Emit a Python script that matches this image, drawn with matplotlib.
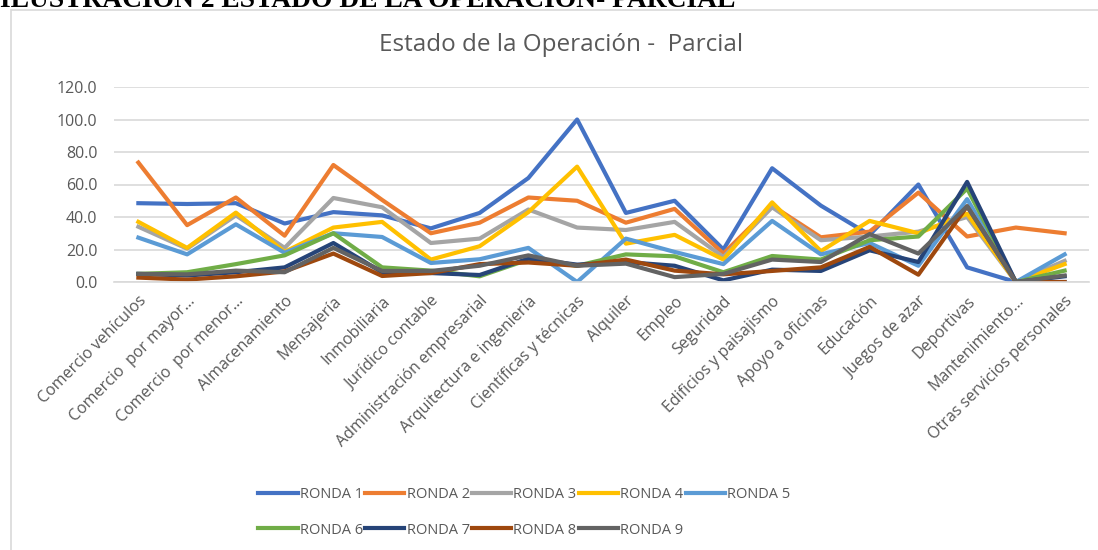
import matplotlib
matplotlib.use("Agg")
import matplotlib.pyplot as plt
from matplotlib.patches import Rectangle
from matplotlib.ticker import FormatStrFormatter

categories = ["Comercio vehículos", "Comercio  por mayor…", "Comercio  por menor…",
              "Almacenamiento", "Mensajería", "Inmobiliaria", "Jurídico contable",
              "Administración empresarial", "Arquitectura e ingeniería",
              "Científicas y técnicas", "Alquiler", "Empleo", "Seguridad",
              "Edificios y paisajismo", "Apoyo a oficinas", "Educación",
              "Juegos de azar", "Deportivas", "Mantenimiento…",
              "Otras servicios personales"]

ronda1 = [48.5, 48, 48.5, 36, 43, 41, 33, 42.5, 64, 100, 42.5, 50, 20, 70, 47, 29, 60, 9, 0, 0]
ronda2 = [73.5, 35, 52, 28.5, 72, 50.5, 30, 36.5, 52, 50, 36.5, 45, 17.5, 47, 27.5, 31, 55, 28, 33.5, 30]
ronda3 = [34, 20.5, 41, 21, 51.7, 46, 24, 26.7, 44.6, 33.5, 32, 37, 15.4, 46, 25.7, 28, 31, 40, 0, 13]
ronda4 = [37, 21, 42.7, 18.5, 33.5, 37, 13.8, 22, 43, 71, 23.6, 29, 13.8, 49, 19, 37.6, 30, 42, 0, 11]
ronda5 = [27.3, 17, 35.5, 18, 30, 27.7, 11.7, 14, 21, 0, 26.7, 18.5, 11, 37.6, 17, 24, 10, 51, 0, 17]
ronda6 = [5, 6, 11, 16.4, 30, 9, 7, 3.5, 13.8, 10, 17, 15.8, 6, 16, 13.8, 25.7, 28, 57.5, 0, 7]
ronda7 = [5, 4, 6, 9, 24, 6, 5.5, 4.3, 14.4, 10.7, 12.3, 10, 1, 7.6, 6.8, 19.5, 12.3, 61.6, 0, 3.5]
ronda8 = [2.7, 1.5, 3.5, 6.5, 17.5, 3.7, 5.5, 11, 12, 10, 13.8, 7, 4.7, 6.8, 9, 21.6, 4.5, 46.6, 0, 0]
ronda9 = [5, 4.7, 7, 6, 21, 6.8, 6.8, 10, 16.4, 10, 11.3, 3, 5, 13.8, 12.3, 29.5, 17.5, 46.6, 0, 4]

series_names = ["RONDA 1", "RONDA 2", "RONDA 3", "RONDA 4", "RONDA 5",
                "RONDA 6", "RONDA 7", "RONDA 8", "RONDA 9"]
series_values = [ronda1, ronda2, ronda3, ronda4, ronda5, ronda6, ronda7, ronda8, ronda9]
colors = ["#4472C4", "#ED7D31", "#A5A5A5", "#FFC000", "#5B9BD5",
          "#70AD47", "#264478", "#9E480E", "#636363"]
yticks = [0, 20, 40, 60, 80, 100, 120]

FONT = "Open Sans"
TXT = "#595959"
W, H = 1098, 550

fig = plt.figure(figsize=(W / 100, H / 100), dpi=100)

# chart border
fig.patches.append(Rectangle((11 / W, -0.05), 1.2, (H - 10) / H + 0.05,
                             transform=fig.transFigure, fill=False,
                             edgecolor="#D9D9D9", linewidth=1.2))

# document caption (cut off at the top, as in the source document)
fig.text(0.0, 1 - 7 / H, "ILUSTRACIÓN 2 ESTADO DE LA OPERACIÓN- PARCIAL",
         fontfamily="Liberation Serif", fontweight="bold", fontsize=19.8,
         ha="left", va="baseline", color="black")

ax = fig.add_axes([114 / W, (H - 282) / H, (1089 - 114) / W, (282 - 87) / H])
x = list(range(len(categories)))
for name, vals, c in zip(series_names, series_values, colors):
    ax.plot(x, vals, color=c, linewidth=3, label=name, solid_joinstyle="round")

ax.set_xlim(-0.5, len(categories) - 0.5)
ax.set_ylim(0, 120)
ax.set_yticks(yticks)
ax.yaxis.set_major_formatter(FormatStrFormatter("%.1f"))
ax.grid(axis="y", color="#D9D9D9", linewidth=1.2)
ax.set_axisbelow(True)
for s in ["top", "right", "left"]:
    ax.spines[s].set_visible(False)
ax.spines["bottom"].set_color("#D9D9D9")
ax.spines["bottom"].set_linewidth(1.2)
ax.tick_params(axis="both", length=0, colors=TXT, labelsize=11.5)
ax.tick_params(axis="y", pad=12)
ax.tick_params(axis="x", pad=8)
ax.set_xticks(x)
ax.set_xticklabels(categories, rotation=45, ha="right", va="top",
                   rotation_mode="anchor", fontfamily=FONT, fontsize=11.5, color=TXT)
for lab in ax.get_yticklabels():
    lab.set_fontfamily(FONT)

fig.text(561 / W, 1 - 45 / H, "Estado de la Operación -  Parcial", fontfamily=FONT,
         fontsize=17.5, color=TXT, ha="center", va="center")

handles, labels = ax.get_legend_handles_labels()
order = [0, 5, 1, 6, 2, 7, 3, 8, 4]
leg = fig.legend([handles[i] for i in order], [labels[i] for i in order],
                 ncol=5, loc="upper left", bbox_to_anchor=(245 / W, 1 - 474 / H),
                 frameon=False, prop={"family": FONT, "size": 10.5},
                 handlelength=2.7, handletextpad=0.15, columnspacing=0.15,
                 labelspacing=1.4)
for t in leg.get_texts():
    t.set_color(TXT)

fig.savefig("out.png", dpi=100)
